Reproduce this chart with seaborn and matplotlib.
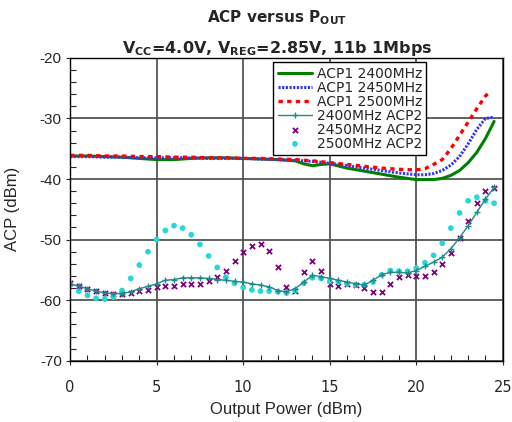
import numpy as np
import pandas as pd
import matplotlib
matplotlib.use("Agg")
import matplotlib.pyplot as plt
import seaborn as sns
from matplotlib.ticker import MultipleLocator

# ACP1 curves
acp1_2400_x = [0, 1, 2, 3, 4, 5, 6, 7, 8, 9, 10, 11, 12, 13, 13.5, 14, 14.5, 15, 16, 17, 18, 19, 20, 21, 21.5, 22, 22.5, 23, 23.5, 24, 24.5]
acp1_2400_y = [-36.2, -36.2, -36.3, -36.4, -36.6, -36.8, -36.8, -36.6, -36.5, -36.5, -36.6, -36.7, -36.8, -37.0, -37.5, -37.8, -37.6, -37.5, -38.2, -38.7, -39.2, -39.7, -40.1, -40.1, -39.9, -39.4, -38.6, -37.3, -35.6, -33.3, -30.5]

acp1_2450_x = [0, 1, 2, 3, 4, 5, 6, 7, 8, 9, 10, 11, 12, 13, 14, 15, 16, 17, 18, 19, 20, 20.5, 21, 21.5, 22, 22.5, 23, 23.5, 24, 24.5]
acp1_2450_y = [-36.3, -36.3, -36.4, -36.4, -36.5, -36.5, -36.5, -36.5, -36.6, -36.6, -36.6, -36.7, -36.8, -36.9, -37.1, -37.4, -37.8, -38.2, -38.6, -39.0, -39.3, -39.3, -39.1, -38.6, -37.7, -36.3, -34.2, -31.8, -30.0, -29.8]

acp1_2500_x = [0, 1, 2, 3, 4, 5, 6, 7, 8, 9, 10, 11, 12, 13, 14, 15, 16, 17, 18, 19, 20, 20.5, 21, 21.5, 22, 22.5, 23, 23.5, 24, 24.25]
acp1_2500_y = [-36.1, -36.1, -36.2, -36.2, -36.3, -36.3, -36.4, -36.4, -36.5, -36.5, -36.6, -36.6, -36.7, -36.8, -37.0, -37.3, -37.6, -37.9, -38.2, -38.4, -38.5, -38.3, -37.6, -36.8, -35.0, -32.8, -30.6, -28.4, -26.3, -25.6]

# ACP2 points, every 0.5 dBm from 0 to 24.5
acp2_x = [i * 0.5 for i in range(50)]
acp2_2400 = [-57.3, -57.7, -58.1, -58.5, -58.8, -58.9, -58.9, -58.6, -58.1, -57.7,
             -57.3, -56.7, -56.6, -56.3, -56.3, -56.3, -56.4, -56.6, -56.7, -56.9,
             -57.0, -57.3, -57.5, -57.8, -58.4, -58.6, -58.1, -57.0, -55.9, -56.1,
             -56.4, -56.7, -57.0, -57.3, -57.5, -56.7, -55.8, -55.4, -55.4, -55.5,
             -55.1, -54.4, -53.7, -52.9, -51.5, -49.7, -47.7, -45.5, -43.3, -41.4]
acp2_2450 = [-57.2, -57.7, -58.1, -58.5, -58.8, -58.9, -59.0, -58.8, -58.5, -58.3,
             -57.9, -57.7, -57.6, -57.4, -57.4, -57.3, -56.9, -56.2, -55.1, -53.6,
             -52.1, -51.1, -50.8, -51.8, -54.6, -57.8, -58.4, -55.4, -53.6, -55.2,
             -57.3, -57.7, -57.3, -57.5, -58.0, -58.6, -58.6, -57.4, -56.2, -55.8,
             -56.0, -56.0, -55.4, -54.0, -52.2, -49.7, -46.9, -44.0, -42.0, -41.5]
acp2_2500 = [-57.4, -58.5, -59.2, -59.7, -59.8, -59.5, -58.4, -56.4, -54.2, -52.0,
             -50.0, -48.5, -47.7, -48.1, -49.2, -50.8, -52.7, -54.6, -56.2, -57.2,
             -57.9, -58.3, -58.5, -58.5, -58.6, -58.8, -58.4, -57.2, -56.3, -56.4,
             -56.9, -57.0, -57.3, -57.5, -57.4, -57.0, -55.8, -55.1, -55.2, -55.2,
             -54.7, -53.8, -52.6, -50.6, -48.1, -45.6, -43.6, -43.0, -43.6, -44.0]

sns.set_style("white")
plt.rcParams["font.family"] = ["Liberation Sans", "DejaVu Sans"]
plt.rcParams["axes.unicode_minus"] = False

fig = plt.figure(figsize=(5.12, 4.22), dpi=100)
ax = fig.add_axes([0.137, 0.145, 0.845, 0.718])

teal = "#1f8a8a"
sns.lineplot(x=acp1_2400_x, y=acp1_2400_y, ax=ax, color="#008000", lw=2.2,
             label="ACP1 2400MHz", sort=False)
sns.lineplot(x=acp1_2450_x, y=acp1_2450_y, ax=ax, color="#3333ff", lw=2.2,
             linestyle=(0, (0.7, 0.5)), label="ACP1 2450MHz", sort=False)
sns.lineplot(x=acp1_2500_x, y=acp1_2500_y, ax=ax, color="#ff0000", lw=2.4,
             linestyle=(0, (1.3, 1.3)), label="ACP1 2500MHz", sort=False)
sns.lineplot(x=acp2_x, y=acp2_2400, ax=ax, color=teal, lw=1.0, linestyle="-",
             marker="+", markersize=5, markeredgewidth=1.0, markeredgecolor=teal,
             label="2400MHz ACP2", sort=False)
sns.scatterplot(x=acp2_x, y=acp2_2450, ax=ax, color="#800080", marker="x",
                s=14, linewidth=1.3, label="2450MHz ACP2")
sns.scatterplot(x=acp2_x, y=acp2_2500, ax=ax, color="#22d8d8", marker="o",
                s=17, edgecolor="none", label="2500MHz ACP2")

ax.set_xlim(0, 25)
ax.set_ylim(-70, -20)
ax.xaxis.set_major_locator(MultipleLocator(5))
ax.xaxis.set_minor_locator(MultipleLocator(1))
ax.yaxis.set_major_locator(MultipleLocator(10))
ax.yaxis.set_minor_locator(MultipleLocator(2))
ax.tick_params(which="minor", direction="in", length=4, width=0.8, left=True, bottom=True)
ax.tick_params(which="major", direction="out", length=3, width=0.8, left=True, bottom=True)
ax.tick_params(axis="y", which="major", labelsize=11, pad=3)
ax.tick_params(axis="x", which="major", labelsize=11, pad=11)
for lab in ax.get_xticklabels():
    lab.set_family("DejaVu Sans")
    lab.set_fontsize(10.5)
ax.grid(True, which="major", color="#555555", lw=1.3)
for sp in ax.spines.values():
    sp.set_color("black")
    sp.set_linewidth(1.0)

ax.set_xlabel("Output Power (dBm)", fontsize=12, labelpad=5)
ax.set_ylabel("ACP (dBm)", fontsize=12, labelpad=14)

fig.text(0.541, 0.957, r"ACP versus P$_{\mathbf{OUT}}$", ha="center", va="center",
         fontsize=11, fontweight="bold", family="DejaVu Sans")
fig.text(0.541, 0.886, r"V$_{\mathbf{CC}}$=4.0V, V$_{\mathbf{REG}}$=2.85V, 11b 1Mbps",
         ha="center", va="center", fontsize=11.5, fontweight="bold", family="DejaVu Sans")

leg = ax.legend(loc="upper left", bbox_to_anchor=(0.47, 0.985), fontsize=10,
                prop={"family": "DejaVu Sans", "size": 10},
                frameon=True, fancybox=False, framealpha=1, borderpad=0.3,
                labelspacing=0.0, handlelength=2.5, handletextpad=0.3, borderaxespad=0.0)
leg.get_frame().set_edgecolor("black")
leg.get_frame().set_linewidth(1.0)

fig.savefig("out.png", dpi=100)
